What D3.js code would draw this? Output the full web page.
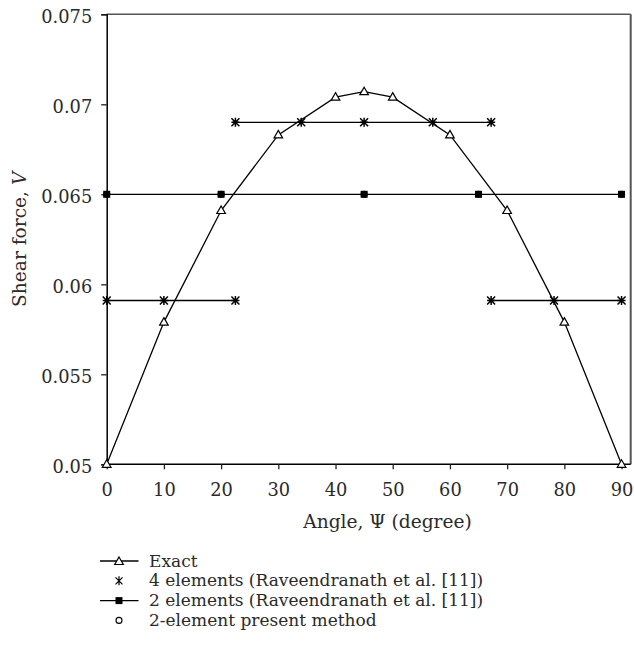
<!DOCTYPE html>
<html><head><meta charset="utf-8">
<script src="https://cdn.jsdelivr.net/npm/d3@7"></script>
<style>body{margin:0;background:#fff}svg text{font-family:"DejaVu Serif","Liberation Serif",serif;fill:#2a2a2a}</style>
</head><body>
<svg id="c" width="634" height="647"></svg>
<script>
// ---- data ----
const exactX = [0, 10, 20, 30, 40, 45, 50, 60, 70, 80, 90];
const exactV = [0.05, 0.0579, 0.0641, 0.0683, 0.0704, 0.0707, 0.0704, 0.0683, 0.0641, 0.0579, 0.05];
const fourAX = [0, 10, 22.5];
const fourAV = [0.0591, 0.0591, 0.0591];
const fourBX = [22.5, 34, 45, 57, 67.2];
const fourBV = [0.069, 0.069, 0.069, 0.069, 0.069];
const fourCX = [67.2, 78.2, 90];
const fourCV = [0.0591, 0.0591, 0.0591];
const twoX = [0, 20, 45, 65, 90];
const twoV = [0.065, 0.065, 0.065, 0.065, 0.065];
const presentX = [0, 20, 45, 65, 90];
const presentV = [0.065, 0.065, 0.065, 0.065, 0.065];
const xTicks = [0, 10, 20, 30, 40, 50, 60, 70, 80, 90];
const yTicks = [0.05, 0.055, 0.06, 0.065, 0.07, 0.075];
const yTickLabels = ["0.05", "0.055", "0.06", "0.065", "0.07", "0.075"];
const legendLabels = ["Exact", "4 elements (Raveendranath et al. [11])", "2 elements (Raveendranath et al. [11])", "2-element present method"];

// ---- layout ----
const L = 106.7, R = 630.7, T = 14.3, B = 464.3;
const svg = d3.select("#c");
const x = d3.scaleLinear().domain([0, 91.6]).range([L, R]);
const y = d3.scaleLinear().domain([0.05, 0.075]).range([B, T]);
const FT = 17.8, FA = 18.6, FL = 17;

// frame (top & right)
svg.append("line").attr("x1", L).attr("x2", R).attr("y1", T).attr("y2", T).attr("stroke", "#555").attr("stroke-width", 1.5);
svg.append("line").attr("x1", R).attr("x2", R).attr("y1", T).attr("y2", B).attr("stroke", "#555").attr("stroke-width", 2);

// axes
const xAxis = svg.append("g").attr("transform", `translate(0,${B})`)
  .call(d3.axisBottom(x).tickValues(xTicks).tickSize(5).tickFormat(d3.format("d")));
const yAxis = svg.append("g").attr("transform", `translate(${L},0)`)
  .call(d3.axisLeft(y).tickValues(yTicks).tickSize(5.5).tickPadding(9).tickFormat((d, i) => yTickLabels[i]));
[xAxis, yAxis].forEach(g => {
  g.select(".domain").attr("stroke", "#000").attr("stroke-width", 1.5);
  g.selectAll(".tick line").attr("stroke", "#222").attr("stroke-width", 1.3);
  g.selectAll("text").style("font-size", FT + "px").attr("fill", "#2a2a2a");
});
xAxis.select(".domain").attr("d", `M${L},0H${R}`);
xAxis.selectAll("text").attr("y", 31.5).attr("dy", 0);
yAxis.selectAll("text").attr("dy", "0.47em");

// axis titles
svg.append("text").attr("x", 387.5).attr("y", 528).attr("text-anchor", "middle")
  .style("font-size", FA + "px").text("Angle, Ψ (degree)");
const yt = svg.append("text").attr("transform", `translate(26,${(T + B) / 2}) rotate(-90)`)
  .attr("text-anchor", "middle").style("font-size", FA + "px");
yt.append("tspan").text("Shear force, ");
yt.append("tspan").style("font-style", "italic").text("V");

// helpers
const line = d3.line().x(d => x(d[0])).y(d => y(d[1]));
const zip = (a, b) => a.map((v, i) => [v, b[i]]);
function drawLine(pts) {
  svg.append("path").attr("d", line(pts)).attr("fill", "none").attr("stroke", "#000").attr("stroke-width", 1.3);
}
function tri(g, cx, cy) {
  g.append("path").attr("d", `M${cx},${cy - 4.5}L${cx + 4.3},${cy + 3}L${cx - 4.3},${cy + 3}Z`)
    .attr("fill", "#fff").attr("stroke", "#000").attr("stroke-width", 1.2);
}
function star(g, cx, cy) {
  const s = 4;
  g.append("path").attr("d", `M${cx - s},${cy - s}L${cx + s},${cy + s}M${cx - s},${cy + s}L${cx + s},${cy - s}M${cx},${cy - s - 0.5}L${cx},${cy + s + 0.5}M${cx - s},${cy}L${cx + s},${cy}`)
    .attr("stroke", "#000").attr("stroke-width", 1.5).attr("fill", "none");
}
function sq(g, cx, cy) {
  g.append("rect").attr("x", cx - 3.5).attr("y", cy - 3.5).attr("width", 7).attr("height", 7).attr("fill", "#000");
}
function circ(g, cx, cy) {
  g.append("circle").attr("cx", cx).attr("cy", cy).attr("r", 3).attr("fill", "#fff").attr("stroke", "#000").attr("stroke-width", 1.1);
}

// series
const pres = zip(presentX, presentV);
const two = zip(twoX, twoV);
const fourA = zip(fourAX, fourAV), fourB = zip(fourBX, fourBV), fourC = zip(fourCX, fourCV);
const exact = zip(exactX, exactV);
drawLine(two); drawLine(fourA); drawLine(fourB); drawLine(fourC); drawLine(exact);
const mg = svg.append("g");
pres.forEach(d => circ(mg, x(d[0]), y(d[1])));
two.forEach(d => sq(mg, x(d[0]), y(d[1])));
[...fourA, ...fourB, ...fourC].forEach(d => star(mg, x(d[0]), y(d[1])));
exact.forEach(d => tri(mg, x(d[0]), y(d[1])));

// legend
const lx0 = 100, lx1 = 138.5, lmx = 119, ltx = 149;
legendLabels.forEach((lab, i) => {
  const base = 566.5 + i * 19.8;
  const cy = base - 5.5;
  if (i === 0 || i === 2) {
    svg.append("line").attr("x1", lx0).attr("x2", lx1).attr("y1", cy).attr("y2", cy).attr("stroke", "#000").attr("stroke-width", 1.3);
  }
  if (i === 0) tri(svg, lmx, cy + 0.5);
  if (i === 1) {
    const s = 3.5;
    svg.append("path").attr("d", `M${lmx - s},${cy - s}L${lmx + s},${cy + s}M${lmx - s},${cy + s}L${lmx + s},${cy - s}M${lmx},${cy - s - 1}L${lmx},${cy + s + 1}`)
      .attr("stroke", "#000").attr("stroke-width", 1.2);
  }
  if (i === 2) sq(svg, lmx, cy);
  if (i === 3) circ(svg, lmx, cy);
  svg.append("text").attr("x", ltx).attr("y", base).style("font-size", FL + "px").text(lab);
});
</script>
</body></html>
